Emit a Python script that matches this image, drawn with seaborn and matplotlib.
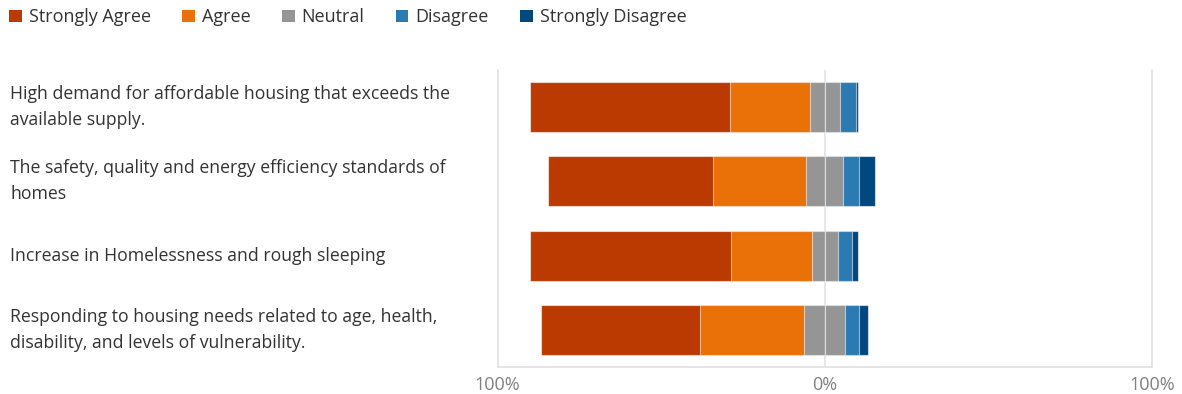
import numpy as np
import pandas as pd
import matplotlib
matplotlib.use("Agg")
import matplotlib.pyplot as plt
import matplotlib.transforms as mtransforms
from matplotlib.patches import Patch
import seaborn as sns

# Survey statements (top to bottom)
statements = [
    "High demand for affordable housing that exceeds the\navailable supply.",
    "The safety, quality and energy efficiency standards of\nhomes",
    "Increase in Homelessness and rough sleeping",
    "Responding to housing needs related to age, health,\ndisability, and levels of vulnerability.",
]
levels = ["Strongly Agree", "Agree", "Neutral", "Disagree", "Strongly Disagree"]

# Percent of responses per level
strongly_agree = [61.1, 50.6, 61.5, 48.6]
agree = [24.3, 28.5, 24.5, 32.0]
neutral = [9.2, 11.2, 8.0, 12.4]
disagree = [5.0, 4.9, 4.3, 4.3]
strongly_disagree = [0.5, 5.0, 2.0, 2.8]

colors = ["#BA3A02", "#EA7008", "#959595", "#2B7AB2", "#02487F"]

sns.set_theme(style="white")
plt.rcParams["font.family"] = ["Open Sans", "DejaVu Sans"]

df = pd.DataFrame({
    "statement": statements,
    "sa": strongly_agree,
    "a": agree,
    "n": neutral,
    "d": disagree,
    "sd": strongly_disagree,
})

# diverging ends: left side negative, neutral split around zero
half_n = df["n"] / 2
layers = [
    (-(df["sa"] + df["a"] + half_n), colors[0]),
    (-(df["a"] + half_n), colors[1]),
    (-half_n, colors[2]),
    (half_n + df["d"] + df["sd"], colors[4]),
    (half_n + df["d"], colors[3]),
    (half_n, colors[2]),
]

fig = plt.figure(figsize=(11.82, 3.94), dpi=100)
ax = fig.add_axes([0.4209, 0.0673, 0.5537, 0.756])

ax.axvline(0, color="#e3e3e3", lw=1.2, zorder=0)
for vals, col in layers:
    sns.barplot(x=vals.values, y=df["statement"], orient="h", color=col,
                saturation=1, width=0.67, edgecolor=(1, 1, 1, 0.55),
                linewidth=0.8, ax=ax, zorder=2)

ax.set_xlim(-100, 100)
ax.set_ylim(3.5, -0.5)
ax.set_xticks([-100, 0, 100])
ax.set_xticklabels(["100%", "0%", "100%"])
ax.tick_params(axis="x", length=0, pad=6, labelsize=13, labelcolor="#808080")
ax.set_yticks([])
ax.set_xlabel("")
ax.set_ylabel("")
for side in ["left", "right", "bottom"]:
    ax.spines[side].set_color("#e0e0e0")
    ax.spines[side].set_linewidth(1.2)
ax.spines["top"].set_visible(False)

# statement labels, left aligned at the figure edge
trans = mtransforms.blended_transform_factory(fig.transFigure, ax.transData)
for i, s in enumerate(statements):
    ax.text(10 / 1182, i, s, transform=trans, ha="left", va="center",
            fontsize=12.7, color="#333333", linespacing=1.55)

handles = [Patch(facecolor=c, edgecolor="none") for c in colors]
fig.legend(handles, levels, loc="upper left", bbox_to_anchor=(-0.006, 1.02),
           ncol=5, frameon=False, fontsize=13, handlelength=0.7,
           handleheight=0.7, handletextpad=0.4, columnspacing=1.72,
           labelcolor="#333333")

fig.savefig("out.png", dpi=100)
